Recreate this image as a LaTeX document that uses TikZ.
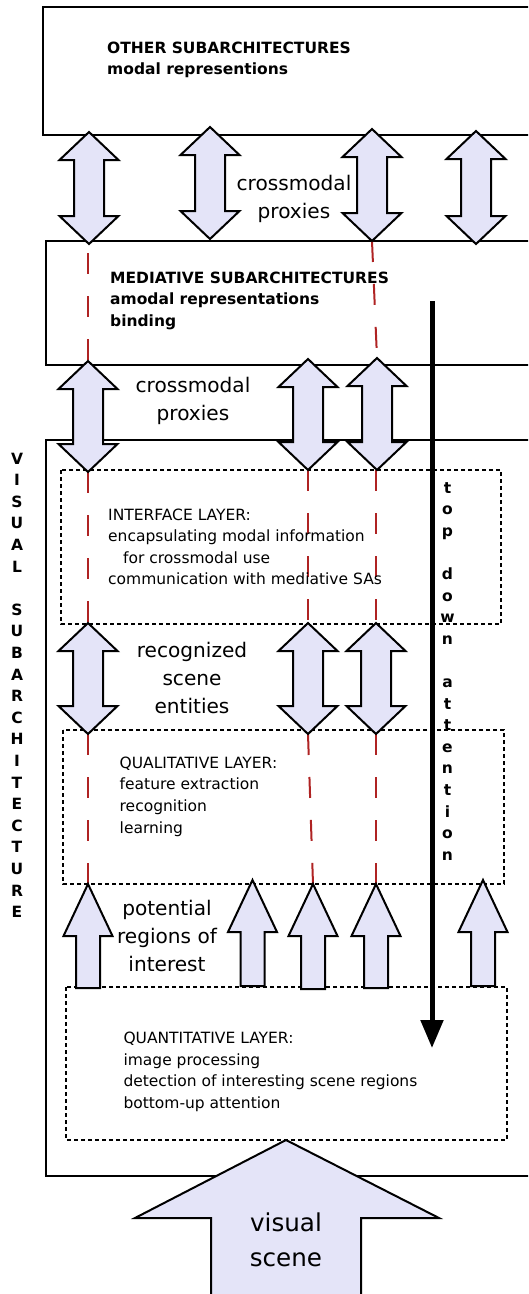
\documentclass[tikz,border=0pt]{standalone}
\usepackage{fontspec}
\setmainfont{DejaVu Sans}
\usetikzlibrary{arrows.meta}
\definecolor{arrfill}{RGB}{228,228,248}
\definecolor{dashred}{RGB}{175,35,35}
\tikzset{
  box/.style={draw, line width=2pt},
  dotbox/.style={draw, line width=1.7pt, dash pattern=on 4pt off 3pt},
  arr/.style={draw, fill=arrfill, line width=2pt, line join=miter},
  reddash/.style={draw=dashred, line width=2pt, dash pattern=on 21pt off 22pt},
  bodytext/.style={font=\fontsize{15.5}{21.6}\selectfont, align=left, inner sep=0pt, anchor=north west},
  headtext/.style={font=\fontsize{15.5}{21.5}\selectfont\bfseries, align=left, inner sep=0pt, anchor=north west},
  biglabel/.style={font=\fontsize{20.1}{28}\selectfont, align=center, inner sep=0pt, anchor=north},
  stacktext/.style={font=\fontsize{15.5}{21.6}\selectfont\bfseries, align=center, inner sep=0pt, anchor=north},
  topdown/.style={line width=5pt, -{Triangle[length=28pt,width=22pt]}},
}
% double arrow: x, y of top tip, y of bottom tip
\newcommand\dblarr[3]{%
  \path[arr] (#1,#2) -- ++(29.5,28) -- ++(-14.5,0) -- (#1+15,#3-28) -- ++(14.5,0)
    -- (#1,#3) -- ++(-29.5,-28) -- ++(14.5,0) -- (#1-15,#2+28) -- ++(-14.5,0) -- cycle;}
% single up arrow: x, y of tip, y of bottom
\newcommand\uparr[3]{%
  \path[arr] (#1,#2) -- ++(24.5,52) -- ++(-12.5,0) -- (#1+12,#3) -- (#1-12,#3)
    -- (#1-12,#2+52) -- ++(-12.5,0) -- cycle;}
\begin{document}
\begin{tikzpicture}[x=1pt,y=-1pt]
\useasboundingbox (0,0) rectangle (528,1294);
\clip (0,0) rectangle (528,1294);

% boxes
\path[box] (43,7) rectangle (560,135);
\path[box] (46,241) rectangle (560,365);
\path[box] (46,440) rectangle (560,1176);
\path[dotbox] (61,470) rectangle (501,624);
\path[dotbox] (63,730) rectangle (504,884);
\path[dotbox] (66,987) rectangle (507,1140);

% red dashed links
\path[reddash, dash phase=34pt] (88,244) -- (88,361);
\path[reddash] (372,241) -- (377,358);
\path[reddash] (88,472) -- (88,623);
\path[reddash] (308,470) -- (308,623);
\path[reddash] (376,470) -- (376,623);
\path[reddash] (88,734) -- (88,884);
\path[reddash] (308,734) -- (313,884);
\path[reddash] (376,734) -- (376,884);

% texts
\node[headtext] (other) at (107,41.7) {OTHER SUBARCHITECTURES\\modal representions};
\node[headtext] (medi) at (110,271.7) {MEDIATIVE SUBARCHITECTURES\\amodal representations\\binding};
\node[bodytext] (iface) at (108,508.3) {INTERFACE LAYER:\\encapsulating modal information\\\hspace*{15pt}for crossmodal use\\communication with mediative SAs};
\node[bodytext] (quali) at (119.5,756.5) {QUALITATIVE LAYER:\\feature extraction\\recognition\\learning};
\node[bodytext] (quanti) at (123.3,1032) {QUANTITATIVE LAYER:\\image processing\\detection of interesting scene regions\\bottom-up attention};
\node[biglabel] (cm1) at (294,175.4) {crossmodal\\proxies};
\node[biglabel] (cm2) at (193,377) {crossmodal\\proxies};
\node[biglabel] (rec) at (192,641.7) {recognized\\scene\\entities};
\node[biglabel] (pot) at (167,899.7) {potential\\regions of\\interest};
\node[stacktext] (vis) at (17,452.5) {V\\I\\S\\U\\A\\L\\[21.6pt]S\\U\\B\\A\\R\\C\\H\\I\\T\\E\\C\\T\\U\\R\\E};
\node[stacktext] (tda) at (447.5,482) {t\\o\\p\\[21.6pt]d\\o\\w\\n\\[21.6pt]a\\t\\t\\e\\n\\t\\i\\o\\n};

% top-down attention arrow
\coordinate (tdstart) at (432,301);
\coordinate (tdend) at (432,1048);
\draw[topdown] (tdstart) -- (tdend);

% arrows row 1
\dblarr{89}{132}{244}
\dblarr{210}{127}{239}
\dblarr{372}{129}{241}
\dblarr{476}{131}{244}
% row 2
\dblarr{88}{361}{472}
\dblarr{308}{359}{470}
\dblarr{377}{358}{470}
% row 3
\dblarr{88}{623}{734}
\dblarr{308}{623}{734}
\dblarr{376}{623}{734}
% single up arrows
\uparr{88}{884}{988}
\uparr{252.5}{880}{986}
\uparr{313}{884}{989}
\uparr{376}{884}{988}
\uparr{483}{880}{986}

% visual scene arrow
\path[arr] (286,1140) -- (439,1218) -- (361,1218) -- (361,1300) -- (211,1300) -- (211,1218) -- (135,1218) -- cycle;
\node[font=\fontsize{24.6}{35}\selectfont, align=center, inner sep=0pt, anchor=north] (vs) at (286,1213) {visual\\scene};
\end{tikzpicture}
\end{document}
